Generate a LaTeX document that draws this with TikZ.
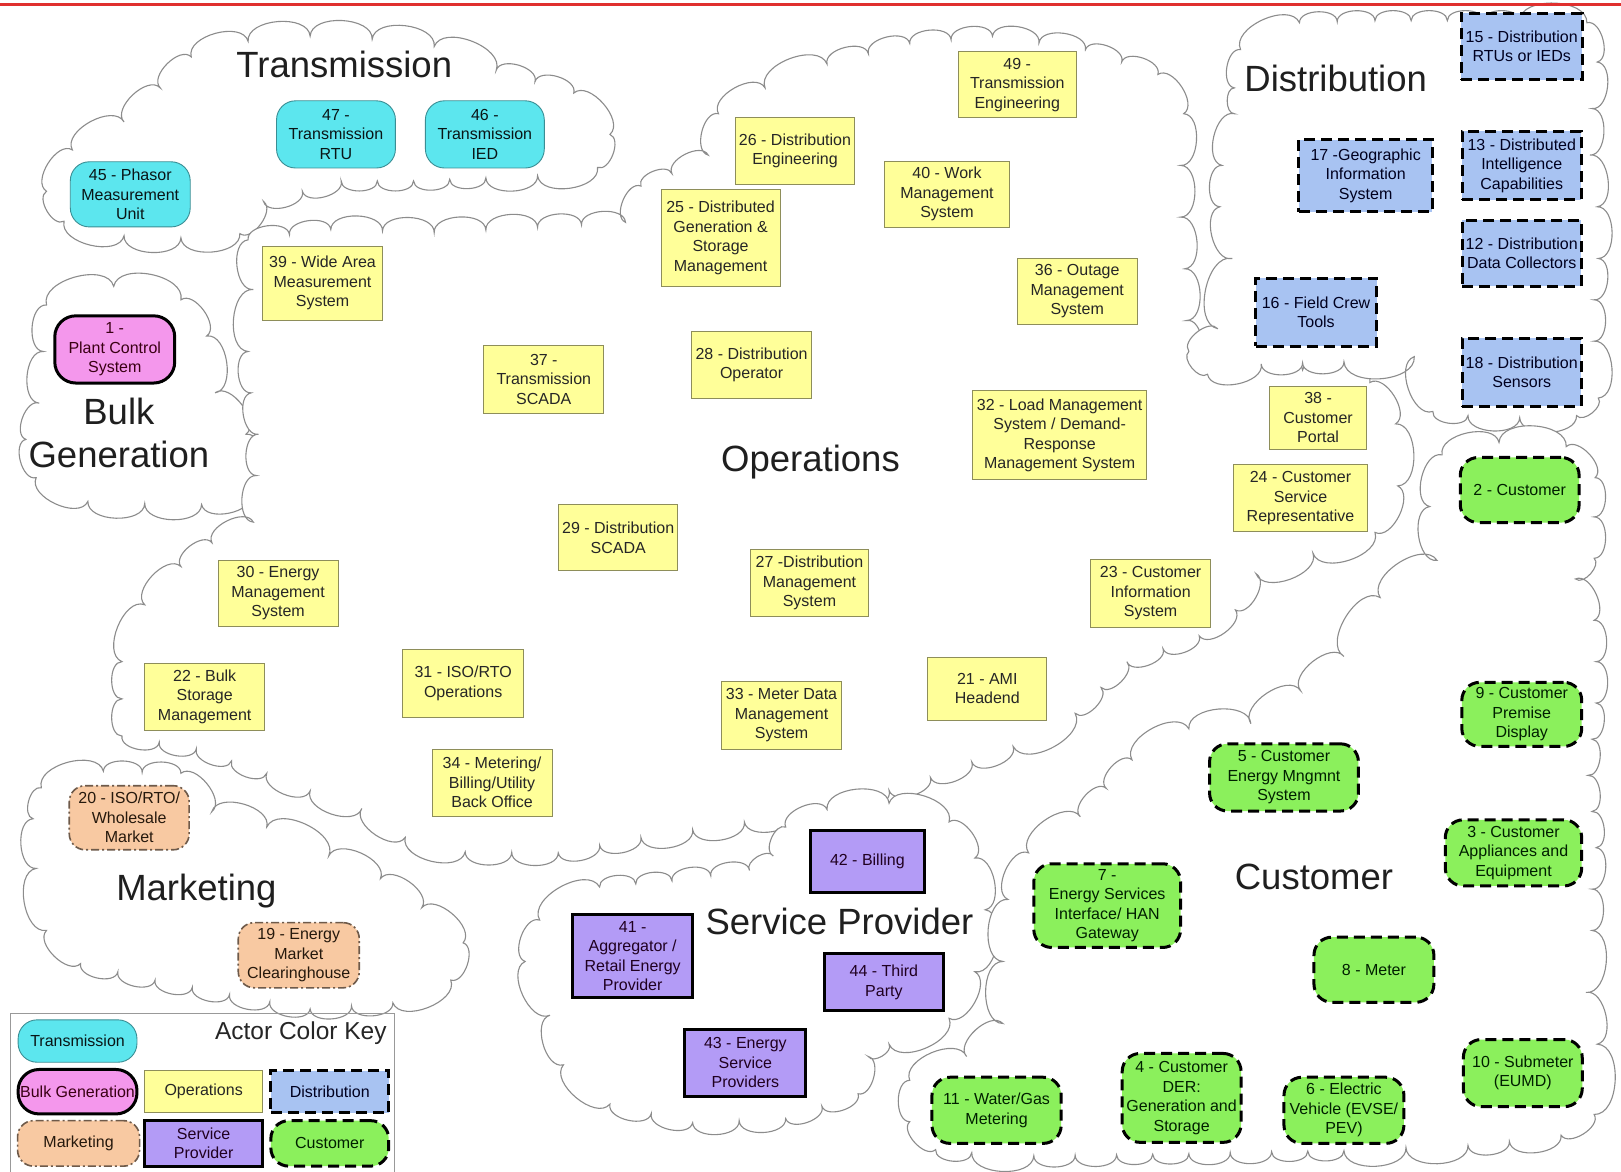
\documentclass[tikz,border=0pt]{standalone}
\usepackage{fontspec}
\setmainfont{Liberation Sans}
% ---- cloud outline builder: bumps along each polygon edge ----
\def\clbw{48}
\def\clratio{0.37}
\newcommand\claddbumps[2]{%
  \pgfmathsetmacro\cldx{#1-\cllx}%
  \pgfmathsetmacro\cldy{#2-\clly}%
  \pgfmathsetmacro\cldl{veclen(\cldx,\cldy)}%
  \pgfmathtruncatemacro\clnb{max(1,round(\cldl/\clbw))}%
  \pgfmathsetmacro\clnx{-\cldy/\clnb*\clratio}%
  \pgfmathsetmacro\clny{\cldx/\clnb*\clratio}%
  \foreach \clk in {1,...,\clnb} {%
    \pgfmathsetmacro\clax{\cllx+\cldx*(\clk-1)/\clnb}%
    \pgfmathsetmacro\clay{\clly+\cldy*(\clk-1)/\clnb}%
    \pgfmathsetmacro\clbx{\cllx+\cldx*\clk/\clnb}%
    \pgfmathsetmacro\clby{\clly+\cldy*\clk/\clnb}%
    \pgfmathsetmacro\clcax{\clax+\clnx}\pgfmathsetmacro\clcay{\clay+\clny}%
    \pgfmathsetmacro\clcbx{\clbx+\clnx}\pgfmathsetmacro\clcby{\clby+\clny}%
    \xdef\cloudstr{\cloudstr .. controls (\clcax pt,\clcay pt) and (\clcbx pt,\clcby pt) .. (\clbx pt,\clby pt)}%
  }%
}
\newcommand\buildcloud[1]{%
  \gdef\cloudstr{}%
  \gdef\clstarted{0}%
  \foreach \clpx/\clpy in {#1} {%
    \pgfmathsetmacro\clcx{1.0338*\clpx}%
    \pgfmathsetmacro\clcy{-1.0338*\clpy}%
    \ifnum\clstarted=0
      \xdef\cloudstr{(\clcx pt,\clcy pt)}%
      \xdef\clfx{\clcx}\xdef\clfy{\clcy}%
      \gdef\clstarted{1}%
    \else
      \claddbumps{\clcx}{\clcy}%
    \fi
    \xdef\cllx{\clcx}\xdef\clly{\clcy}%
  }%
  \claddbumps{\clfx}{\clfy}%
}
\definecolor{cyanF}{HTML}{5CE6EE}
\definecolor{cyanD}{HTML}{3A8E94}
\definecolor{pinkF}{HTML}{F497EC}
\definecolor{yelF}{HTML}{FFFF99}
\definecolor{yelD}{HTML}{8E8E5A}
\definecolor{bluF}{HTML}{A8C3F2}
\definecolor{grnF}{HTML}{8BF05C}
\definecolor{pchF}{HTML}{F8C9A2}
\definecolor{pchD}{HTML}{6E5A4A}
\definecolor{purF}{HTML}{B39BF6}
\definecolor{redL}{HTML}{E0302E}
\begin{document}
\begin{tikzpicture}[x=1.0338pt,y=-1.0338pt,
  cloudline/.style={draw=black!45, line width=1.1pt, fill=white, line join=miter},
  title/.style={font=\fontsize{36.5}{40}\selectfont, text=black!88},
  actor/.style={align=center, inner sep=1pt, font=\fontsize{16}{19.5}\selectfont},
  sz/.style 2 args={minimum width=#1*1.0338pt, minimum height=#2*1.0338pt},
  trans/.style={actor, fill=cyanF, draw=cyanD, line width=0.9pt, rounded corners=19pt, text=black!85!cyanD},
  bulk/.style={actor, fill=pinkF, draw=black, line width=3pt, rounded corners=21pt, text=black!70!purple},
  ops/.style={actor, fill=yelF, draw=yelD, line width=0.9pt, text=black!85},
  dist/.style={actor, fill=bluF, draw=black, line width=3pt, dash pattern=on 11pt off 6pt, text=black!80!blue!60!black},
  cust/.style={actor, fill=grnF, draw=black, line width=3pt, dash pattern=on 11pt off 6pt, rounded corners=18pt, text=black!75!green!50!black},
  mkt/.style={actor, fill=pchF, draw=pchD, line width=1.6pt, dash pattern=on 8pt off 3pt on 2pt off 3pt, rounded corners=16pt, text=black!80!brown},
  sp/.style={actor, fill=purF, draw=black, line width=3pt, text=black!75!violet},
  legendbox/.style={draw=black!40, line width=1pt}
]
\useasboundingbox (0,0) rectangle (1568,1133);
\fill[white] (0,0) rectangle (1568,1133);

% ---------- clouds ----------
% Transmission
\buildcloud{185/55, 240/40, 300/35, 360/38, 420/45, 480/68, 555/90, 590/130, 578/162, 520/170, 470/172, 400/175, 330/175, 255/195, 232/226, 175/230, 120/228, 62/214, 45/185, 70/145, 120/118, 155/85}
\path[cloudline] \cloudstr -- cycle;
% Bulk Generation
\buildcloud{45/295, 110/277, 175/290, 200/325, 208/380, 238/420, 243/478, 195/488, 140/487, 85/485, 35/462, 25/425, 38/390, 42/340}
\path[cloudline] \cloudstr -- cycle;
% Operations
\buildcloud{240/232, 320/222, 420/225, 520/220, 605/215, 620/180, 650/168, 685/150, 695/110, 740/85, 800/62, 880/42, 960/35, 1050/48, 1120/72, 1145/110, 1142/160, 1142/210, 1146/260, 1148/310, 1155/350, 1200/365, 1260/358, 1325/370, 1350/410, 1352/470, 1330/515, 1270/535, 1215/555, 1195/590, 1160/615, 1090/640, 1040/690, 980/722, 900/752, 820/777, 720/795, 620/810, 540/825, 450/824, 392/810, 350/782, 300/765, 258/748, 190/724, 118/712, 118/640, 140/585, 175/548, 205/525, 245/505, 248/460, 250/420, 243/380, 240/340, 245/280}
\path[cloudline] \cloudstr -- cycle;
% Distribution
\buildcloud{1200/48, 1257/22, 1330/20, 1400/20, 1470/20, 1535/22, 1545/60, 1540/105, 1538/150, 1545/200, 1546/250, 1542/290, 1542/330, 1546/385, 1525/402, 1470/404, 1420/402, 1386/398, 1368/345, 1300/350, 1220/352, 1168/362, 1150/340, 1178/318, 1192/250, 1180/200, 1182/160, 1194/110, 1194/85}
\path[cloudline] \cloudstr -- cycle;
% Marketing
\buildcloud{40/762, 100/746, 175/748, 205/785, 258/800, 318/828, 368/850, 408/878, 448/912, 436/948, 380/970, 300/976, 222/962, 150/948, 78/932, 45/900, 35/840, 32/792}
\path[cloudline] \cloudstr -- cycle;
% Service Provider
\buildcloud{760/800, 800/783, 860/777, 918/795, 943/830, 953/880, 943/940, 918/985, 860/1010, 840/1022, 830/1058, 760/1082, 670/1086, 590/1068, 545/1030, 532/982, 508/930, 522/890, 580/858, 650/852, 725/842, 748/828}
\path[cloudline] \cloudstr -- cycle;
% Customer
\buildcloud{1395/440, 1450/428, 1515/432, 1543/462, 1542/500, 1542/540, 1524/560, 1542/600, 1544/640, 1544/680, 1536/750, 1544/820, 1540/860, 1540/900, 1534/960, 1545/1010, 1542/1078, 1510/1098, 1460/1104, 1420/1108, 1360/1110, 1300/1113, 1230/1114, 1150/1116, 1080/1117, 1000/1118, 940/1115, 905/1112, 880/1085, 880/1045, 935/1022, 970/990, 970/930, 975/870, 995/825, 1045/790, 1095/735, 1150/705, 1210/700, 1258/668, 1300/635, 1335/578, 1390/542, 1383/490}
\path[cloudline] \cloudstr -- cycle;

\draw[redL, line width=3pt] (0,4) -- (1568,4);

% ---------- cloud titles ----------
\node[title] (tTrans) at (333,62) {Transmission};
\node[title, align=center, font=\fontsize{36.5}{43}\selectfont] (tBulk) at (115,419) {Bulk\\Generation};
\node[title] (tOps) at (784,447) {Operations};
\node[title] (tDist) at (1292,76) {Distribution};
\node[title] (tMkt) at (190,862) {Marketing};
\node[title] (tSP) at (812,891) {Service Provider};
\node[title] (tCust) at (1271,848) {Customer};

% ---------- Transmission ----------
\node[trans, sz={116}{63}] (n45) at (126,188) {45 - Phasor\\Measurement\\Unit};
\node[trans, sz={115}{65}] (n47) at (325,130) {47 -\\Transmission\\RTU};
\node[trans, sz={115}{65}] (n46) at (469,130) {46 -\\Transmission\\IED};

% ---------- Bulk Generation ----------
\node[bulk, sz={116}{65}] (n1) at (111,338) {1 -\\Plant Control\\System};

% ---------- Operations ----------
\node[ops, sz={114}{64}] (n49) at (984,82) {49 -\\Transmission\\Engineering};
\node[ops, sz={115}{64}] (n26) at (769,146) {26 - Distribution\\Engineering};
\node[ops, sz={121}{64}] (n40) at (916,188) {40 - Work\\Management\\System};
\node[ops, sz={115}{94}] (n25) at (697,230) {25 - Distributed\\Generation \&\\Storage\\Management};
\node[ops, sz={116}{72}] (n39) at (312,274) {39 - Wide Area\\Measurement\\System};
\node[ops, sz={116}{64}] (n36) at (1042,282) {36 - Outage\\Management\\System};
\node[ops, sz={116}{65}] (n37) at (526,367) {37 -\\Transmission\\SCADA};
\node[ops, sz={116}{64}] (n28) at (727,353) {28 - Distribution\\Operator};
\node[ops, sz={168}{86}] (n32) at (1025,421) {32 - Load Management\\System / Demand-\\Response\\Management System};
\node[ops, sz={94}{61}] (n38) at (1275,404) {38 -\\Customer\\Portal};
\node[ops, sz={130}{65}] (n24) at (1258,482) {24 - Customer\\Service\\Representative};
\node[ops, sz={115}{64}] (n29) at (598,520) {29 - Distribution\\SCADA};
\node[ops, sz={115}{65}] (n27) at (783,564) {27 -Distribution\\Management\\System};
\node[ops, sz={116}{65}] (n23) at (1113,574) {23 - Customer\\Information\\System};
\node[ops, sz={116}{64}] (n30) at (269,574) {30 - Energy\\Management\\System};
\node[ops, sz={116}{65}] (n22) at (198,674) {22 - Bulk\\Storage\\Management};
\node[ops, sz={117}{65}] (n31) at (448,661) {31 - ISO/RTO\\Operations};
\node[ops, sz={116}{65}] (n33) at (756,692) {33 - Meter Data\\Management\\System};
\node[ops, sz={115}{61}] (n21) at (955,666) {21 - AMI\\Headend};
\node[ops, sz={116}{65}] (n34) at (476,757) {34 - Metering/\\Billing/Utility\\Back Office};

% ---------- Distribution ----------
\node[dist, sz={117}{64}] (n15) at (1472,45) {15 - Distribution\\RTUs or IEDs};
\node[dist, sz={129}{70}] (n17) at (1321,170) {17 -Geographic\\Information\\System};
\node[dist, sz={115}{66}] (n13) at (1472,160) {13 - Distributed\\Intelligence\\Capabilities};
\node[dist, sz={115}{64}] (n12) at (1472,245) {12 - Distribution\\Data Collectors};
\node[dist, sz={117}{66}] (n16) at (1273,302) {16 - Field Crew\\Tools};
\node[dist, sz={115}{66}] (n18) at (1472,360) {18 - Distribution\\Sensors};

% ---------- Customer ----------
\node[cust, sz={115}{63}] (n2) at (1470,474) {2 - Customer};
\node[cust, sz={116}{62}] (n9) at (1472,691) {9 - Customer\\Premise\\Display};
\node[cust, sz={144}{65}] (n5) at (1242,752) {5 - Customer\\Energy Mngmnt\\System};
\node[cust, sz={132}{64}] (n3) at (1464,825) {3 - Customer\\Appliances and\\Equipment};
\node[cust, sz={142}{81}] (n7) at (1071,876) {7 -\\Energy Services\\Interface/ HAN\\Gateway};
\node[cust, sz={116}{63}] (n8) at (1329,938) {8 - Meter};
\node[cust, sz={115}{65}] (n10) at (1473,1038) {10 - Submeter\\(EUMD)};
\node[cust, sz={125}{64}] (n11) at (964,1074) {11 - Water/Gas\\Metering};
\node[cust, sz={115}{86}] (n4) at (1143,1062) {4 - Customer\\DER:\\Generation and\\Storage};
\node[cust, sz={116}{64}] (n6) at (1300,1074) {6 - Electric\\Vehicle (EVSE/\\PEV)};

% ---------- Marketing ----------
\node[mkt, sz={116}{62}] (n20) at (125,791) {20 - ISO/RTO/\\Wholesale\\Market};
\node[mkt, sz={117}{63}] (n19) at (289,924) {19 - Energy\\Market\\Clearinghouse};

% ---------- Service Provider ----------
\node[sp, sz={110}{60}] (n42) at (839,833) {42 - Billing};
\node[sp, sz={116}{80}] (n41) at (612,925) {41 -\\Aggregator /\\Retail Energy\\Provider};
\node[sp, sz={115}{55}] (n44) at (855,950) {44 - Third\\Party};
\node[sp, sz={117}{65}] (n43) at (721,1028) {43 - Energy\\Service\\Providers};

% ---------- Legend ----------
\draw[legendbox] (10,980) rectangle (382,1145);
\node[font=\fontsize{24.5}{28}\selectfont, text=black!85] (keyT) at (291,999) {Actor Color Key};
\node[trans, sz={115}{41}] (kT) at (75,1007) {Transmission};
\node[bulk, sz={115}{43}, inner sep=0pt] (kB) at (75,1056) {Bulk Generation};
\node[ops, sz={114}{41}] (kO) at (197,1056) {Operations};
\node[dist, sz={114}{41}] (kD) at (319,1056) {Distribution};
\node[mkt, sz={118}{44}] (kM) at (76,1106) {Marketing};
\node[sp, sz={114}{44}] (kS) at (197,1106) {Service\\Provider};
\node[cust, sz={114}{44}] (kC) at (319,1106) {Customer};
\end{tikzpicture}
\end{document}
